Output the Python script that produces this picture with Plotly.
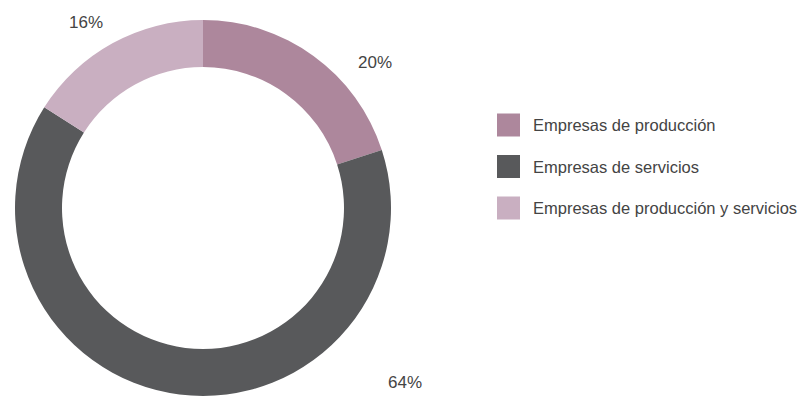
import plotly.graph_objects as go

# Datos del gráfico
categorias = ['Empresas de producción', 'Empresas de servicios', 'Empresas de producción y servicios']
valores = [20, 64, 16]
colores = ['#ad879c', '#58595b', '#c9afc1']

W, H = 803, 398
FUENTE = 'Liberation Sans, Arial, sans-serif'

fig = go.Figure(go.Pie(
    labels=categorias,
    values=valores,
    marker=dict(colors=colores, line=dict(width=0)),
    hole=0.75,
    sort=False,
    direction='clockwise',
    rotation=0,
    textinfo='none',
    hoverinfo='label+percent',
    showlegend=False,
    domain=dict(x=[12 / W, 394 / W], y=[2 / H, 1 - 20 / H]),
))

# Etiquetas de porcentaje fuera del anillo
pos_etiquetas = [(375, 63), (405, 382), (86, 23)]
anotaciones = []
for v, (px, py) in zip(valores, pos_etiquetas):
    anotaciones.append(dict(
        x=px / W, y=1 - py / H, xref='paper', yref='paper',
        text=f'{v}%', showarrow=False,
        font=dict(family=FUENTE, size=17, color='#444444'),
        xanchor='center', yanchor='middle',
    ))

# Leyenda manual con cuadrados grandes
formas = []
filas_y = [125, 166.5, 208]
for cat, col, py in zip(categorias, colores, filas_y):
    formas.append(dict(
        type='rect', xref='paper', yref='paper',
        x0=497 / W, x1=520 / W, y0=1 - (py + 11.5) / H, y1=1 - (py - 11.5) / H,
        fillcolor=col, line=dict(width=0),
    ))
    anotaciones.append(dict(
        x=531 / W, y=1 - py / H, xref='paper', yref='paper',
        text=cat, showarrow=False,
        font=dict(family=FUENTE, size=16.5, color='#444444'),
        xanchor='left', yanchor='middle',
    ))

fig.update_layout(
    width=W, height=H,
    margin=dict(l=0, r=0, t=0, b=0),
    paper_bgcolor='white',
    plot_bgcolor='white',
    annotations=anotaciones,
    shapes=formas,
)

fig.write_html('out.html', config={'displayModeBar': False},
               post_script="document.body.style.margin='0';")
